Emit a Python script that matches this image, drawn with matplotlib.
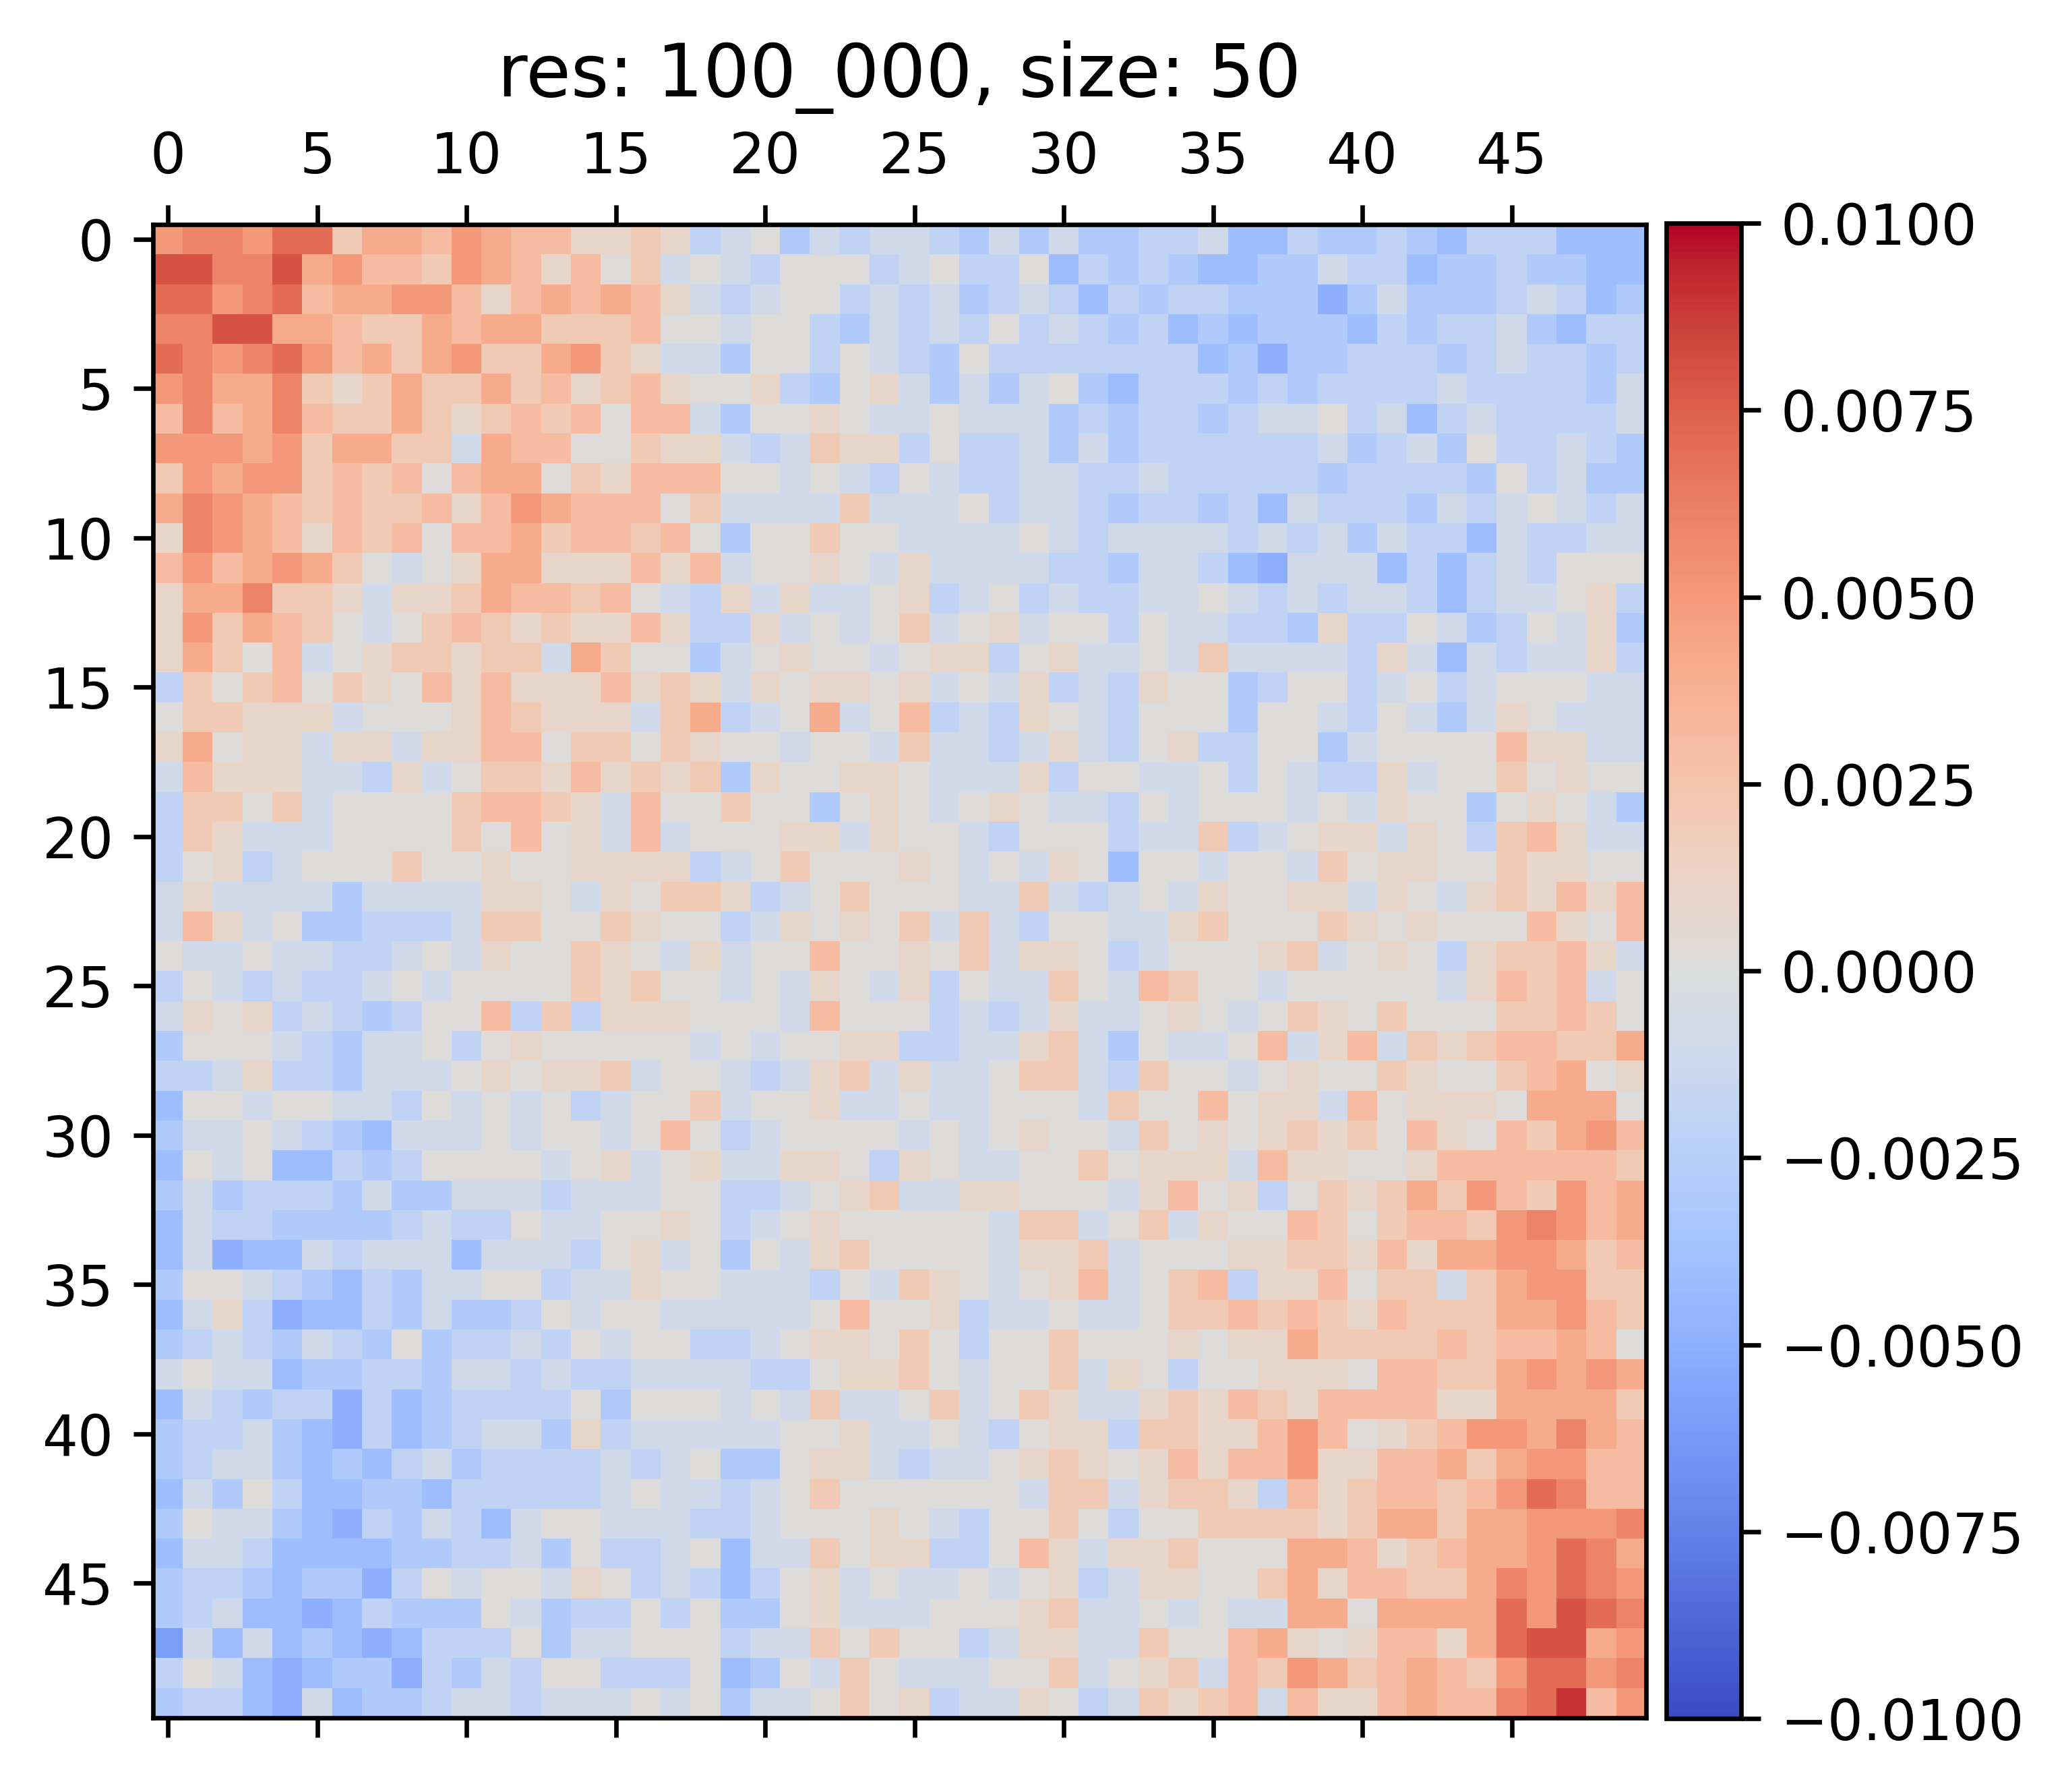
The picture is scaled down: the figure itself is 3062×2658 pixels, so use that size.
import numpy as np
import matplotlib.pyplot as plt

# values, in units of 0.001
unit = 0.001
title = 'res: 100_000, size: 50'
vmin, vmax = -0.01, 0.01
x_ticks = list(range(0, 50, 5))
y_ticks = list(range(0, 50, 5))
cbar_ticks = [-0.01, -0.0075, -0.005, -0.0025, 0.0, 0.0025, 0.005, 0.0075, 0.01]

# columns 0-24
cells_left = [
    [5, 6, 6, 5, 7, 7, 2, 4, 4, 3, 5, 4, 3, 3, 1, 1, 2, 1, -2, -1, 0, -3, -1, -2, -1],
    [8, 8, 6, 6, 8, 4, 5, 3, 3, 2, 5, 4, 3, 1, 3, 0, 2, -1, 0, -1, -2, 0, 0, 0, -2],
    [7, 7, 5, 6, 7, 3, 4, 4, 5, 5, 3, 1, 3, 4, 3, 4, 3, 1, -1, -2, -1, 0, 0, -2, -1],
    [6, 6, 8, 8, 4, 4, 3, 2, 2, 4, 3, 4, 4, 2, 2, 2, 3, 0, 0, -1, 0, 0, -2, -3, -1],
    [7, 6, 5, 6, 7, 5, 3, 4, 2, 4, 5, 2, 2, 4, 5, 2, 1, -1, -1, -3, 0, 0, -2, 0, -1],
    [5, 6, 4, 4, 6, 2, 1, 2, 4, 2, 2, 4, 2, 3, 1, 2, 3, 1, 0, 0, 1, -2, -3, 0, 1],
    [3, 6, 3, 4, 6, 3, 2, 2, 4, 2, 1, 2, 3, 2, 3, 0, 3, 3, -1, -3, 0, 0, 1, 0, -1],
    [5, 5, 5, 4, 5, 2, 4, 4, 2, 2, -1, 4, 3, 3, 0, 0, 2, 1, 1, -1, -2, -1, 2, 1, 1],
    [2, 5, 4, 5, 5, 2, 3, 2, 3, 0, 3, 4, 4, 0, 2, 1, 3, 3, 3, 0, 0, -1, 0, -1, -2],
    [4, 6, 5, 4, 3, 2, 3, 2, 2, 3, 1, 3, 5, 4, 3, 3, 3, 0, 2, -1, -1, -1, -1, 2, -1],
    [1, 6, 5, 4, 3, 1, 3, 2, 3, 0, 3, 3, 4, 2, 3, 3, 2, 3, 0, -3, 0, 0, 2, 0, 0],
    [3, 5, 3, 4, 5, 4, 2, 0, -1, 0, 1, 4, 4, 1, 1, 1, 3, 1, 3, -1, 0, 0, 1, 0, -1],
    [1, 4, 4, 6, 2, 2, 1, -1, 1, 1, 2, 4, 3, 3, 2, 3, 0, -1, -2, 1, -1, 1, -1, -1, 0],
    [1, 5, 2, 4, 3, 2, 0, -1, 0, 2, 3, 2, 1, 2, 1, 1, 3, 1, -2, -2, 1, -1, 0, -1, 0],
    [1, 4, 2, 0, 3, -1, 0, 1, 2, 2, 1, 2, 2, -1, 4, 2, 0, 0, -3, -1, 0, 1, 0, 0, -1],
    [-2, 2, 0, 2, 3, 0, 2, 1, 0, 3, 1, 3, 1, 1, 1, 3, 1, 2, 1, -1, 1, 0, 1, 1, 0],
    [0, 2, 2, 1, 1, 1, -1, 0, 0, 0, 1, 3, 2, 1, 1, 1, -1, 2, 4, -2, -1, 0, 4, -1, 0],
    [1, 4, 0, 1, 1, -1, 1, 1, -1, 1, 1, 3, 3, 0, 2, 2, 0, 2, 1, 0, 0, -1, 0, 0, -1],
    [-1, 3, 1, 1, 1, -1, -1, -2, 1, -1, 0, 2, 2, 1, 3, 1, 2, 1, 2, -3, 1, 0, 0, 1, 1],
    [-2, 2, 2, 0, 2, -1, 0, 0, 0, 0, 2, 3, 3, 2, 1, -1, 3, 0, 0, 2, 0, 0, -3, 0, 1],
    [-2, 2, 1, -1, -1, -1, 0, 0, 0, 0, 2, 0, 3, 0, 1, -1, 3, -1, 0, 0, 0, 1, 1, -1, 1],
    [-2, 0, 1, -2, -1, 0, 0, 0, 2, 0, 0, 1, 0, 0, 1, 1, 1, 1, -2, -1, 0, 2, 0, 0, 0],
    [-1, 1, -1, -1, -1, -1, -3, -1, -1, -1, -1, 1, 1, 0, -1, 1, 0, 2, 2, 1, -2, -1, 0, 2, 0],
    [-1, 3, 1, -1, 0, -3, -3, -2, -2, -2, -1, 2, 2, 0, 0, 2, 1, 0, 0, -2, -1, 1, 0, 1, 0],
    [0, -1, -1, 0, -1, -1, -2, -2, -1, 0, -1, 1, 0, 0, 2, 1, 0, -1, 1, -1, 0, 0, 3, 0, 0],
    [-2, 0, -1, -2, -1, -2, -2, -1, 0, -1, 0, 0, 0, 0, 2, 1, 2, 0, 0, -1, 0, -1, 1, 0, -1],
    [-1, 1, 0, 1, -2, -1, -2, -3, -2, 0, 0, 3, -2, 2, -2, 1, 1, 1, 0, 0, 0, -1, 3, 0, 0],
    [-3, 0, 0, 0, -1, -2, -3, -1, -1, 0, -2, 0, 1, 0, 0, 0, 0, 0, -1, 0, -1, 0, 0, 1, 1],
    [-2, -2, -1, 1, -2, -2, -3, -1, -1, -1, 0, 1, 0, 1, 1, 2, -1, 0, 0, -1, -2, -1, 1, 2, -1],
    [-4, 0, 0, -1, 0, 0, -1, -1, -2, 0, -1, 0, -1, 0, -2, -1, 0, 0, 2, -1, 0, 0, 1, -1, -1],
    [-3, -1, -1, 0, -1, -2, -3, -4, -1, -1, -1, 0, -1, 0, 0, -1, 0, 3, 0, -2, -1, 0, 0, 0, 0],
    [-4, 0, -1, 0, -4, -4, -2, -3, -2, 0, 0, 0, 0, -1, 0, 1, -1, 0, 1, -1, -1, 1, 1, 0, -2],
    [-3, -1, -3, -2, -2, -2, -3, -1, -3, -3, -1, -1, -1, -2, -1, -1, -1, 0, 0, -2, -2, -1, 0, 1, 2],
    [-4, -1, -2, -2, -3, -3, -3, -3, -2, -1, -2, -2, 0, -1, -1, 0, 0, 1, 0, -2, -1, 0, 1, 0, 0],
    [-4, -1, -5, -4, -4, -1, -2, -1, -1, -1, -4, -1, -1, -1, -2, 0, 1, -1, 0, -3, 0, -1, 1, 2, 0],
    [-3, 0, 0, -1, -2, -3, -4, -2, -3, -1, -1, 0, 0, -2, -1, -1, 1, 0, 0, -1, -1, -1, -2, 0, -1],
    [-4, -1, 1, -2, -5, -4, -4, -2, -3, -1, -3, -3, -2, 0, -1, 0, 0, -1, -1, -1, -1, -1, 0, 3, 0],
    [-3, -2, -1, -2, -3, -1, -2, -3, 0, -3, -2, -2, -1, -2, 0, -1, 0, 0, -2, -2, -1, 0, 1, 1, 0],
    [-1, 0, -1, -1, -4, -3, -3, -2, -2, -3, -1, -1, -2, -1, -2, -2, -1, -1, -1, -1, -2, -2, 0, 1, 1],
    [-4, -1, -2, -3, -2, -2, -5, -2, -4, -3, -2, -2, -2, -2, 0, -3, 0, 0, 0, -1, 0, -1, 2, -1, -1],
    [-3, -2, -2, -1, -3, -4, -5, -2, -4, -3, -2, -1, -1, -3, 1, -2, -1, -1, -1, -1, -1, 0, 0, 1, -1],
    [-3, -2, -1, -1, -3, -4, -3, -4, -2, -1, -3, -2, -2, -2, -2, -1, -2, -1, 0, -3, -3, 0, 1, 1, -1],
    [-4, -1, -3, 0, -2, -4, -4, -3, -3, -4, -2, -2, -2, -2, -2, -1, 0, -1, -1, -2, -1, 0, 2, 0, 0],
    [-3, 0, -1, -1, -3, -4, -5, -2, -3, -1, -2, -4, -1, 0, 0, -1, -1, -1, -2, -2, -1, 0, 0, 0, 1],
    [-4, -1, -1, -2, -4, -4, -4, -4, -3, -3, -2, -2, -1, -3, 0, -2, -2, -1, 0, -4, -1, -1, 2, 0, 1],
    [-3, -2, -2, -3, -4, -3, -3, -5, -2, 0, -1, 0, 0, -1, 1, 0, -2, -1, -2, -4, -2, 0, 1, -1, 0],
    [-3, -2, -1, -4, -4, -5, -4, -2, -3, -3, -3, 0, -1, -3, -2, -2, 0, -2, 0, -3, -3, 0, 1, -1, -1],
    [-6, -1, -4, -1, -4, -3, -4, -5, -4, -2, -2, -2, 0, -3, -1, -1, 0, 0, 0, -2, -1, -1, 2, 0, 2],
    [-2, 0, -1, -4, -5, -4, -3, -3, -5, -2, -3, -1, -2, 0, 0, -2, -2, -2, 0, -4, -3, 0, -1, 2, 0],
    [-3, -2, -2, -4, -5, -1, -4, -3, -3, -2, -1, -1, -2, -1, -1, -1, 0, -1, 0, -3, -1, -1, 0, 2, 0],
]

# columns 25-49
cells_right = [
    [-1, -2, -3, -1, -3, -1, -3, -3, -2, -2, -1, -4, -4, -2, -3, -3, -2, -3, -4, -2, -2, -2, -4, -4, -4],
    [-1, 0, -2, -2, 0, -4, -2, -3, -2, -3, -4, -4, -3, -3, -1, -2, -2, -4, -3, -3, -2, -3, -3, -4, -4],
    [-2, -1, -3, -2, -1, -2, -4, -2, -3, -2, -2, -3, -3, -3, -5, -3, -1, -3, -3, -3, -2, -1, -2, -4, -3],
    [-2, -1, -2, 0, -2, -1, -2, -3, -2, -4, -3, -4, -3, -3, -3, -4, -2, -3, -2, -2, -1, -3, -4, -2, -2],
    [-2, -3, 0, -2, -2, -2, -2, -2, -2, -2, -4, -3, -5, -3, -3, -2, -2, -2, -3, -2, -1, -2, -2, -3, -2],
    [-1, -3, -1, -3, -1, 0, -3, -4, -2, -2, -2, -3, -2, -3, -2, -2, -2, -2, -1, -2, -2, -2, -2, -3, -1],
    [-1, 0, -1, -1, -1, -3, -2, -3, -2, -2, -3, -2, -1, -1, 0, -2, -1, -4, -2, -1, -2, -2, -2, -2, -1],
    [-2, 0, -2, -2, -1, -3, -1, -3, -2, -2, -2, -2, -2, -2, -1, -3, -2, -1, -3, 0, -2, -2, -1, -2, -3],
    [0, -1, -2, -2, -1, -1, -2, -2, -1, -2, -2, -2, -2, -2, -3, -2, -2, -2, -2, -3, 0, -2, -1, -3, -3],
    [-1, -1, 0, -2, -1, -1, -2, -3, -2, -2, -3, -2, -4, -1, -2, -2, -2, -3, -1, -2, -1, 0, -1, -2, -1],
    [-1, -1, -1, -1, 0, -1, -2, -1, -1, -1, -1, -2, -1, -2, -1, -3, -1, -2, -2, -4, -1, -2, -2, -1, -1],
    [1, -1, -1, -1, -1, -2, -2, -3, -1, -1, -2, -4, -5, -1, -1, -1, -4, -2, -4, -2, -1, -2, 0, 0, 0],
    [1, -2, -1, 0, -2, -1, -2, -2, -1, -1, 0, -1, -2, -1, -2, -1, -1, -2, -4, -2, -1, -1, 0, 1, -2],
    [2, -1, 0, 1, -1, 0, 0, -2, 0, -1, -1, -2, -2, -3, 1, -2, -2, 0, -1, -3, -2, 0, -1, 1, -3],
    [0, 1, 1, -2, 0, 1, -1, -1, 0, -1, 2, -1, -1, -1, -1, -2, 1, -1, -4, -1, -2, -1, -1, 1, -2],
    [1, -1, 0, -1, 1, -2, -1, -2, 1, 0, 0, -3, -2, 0, 0, -2, -1, 0, -2, -1, 0, 0, 0, -1, -1],
    [3, -2, -1, -2, 1, 0, -1, -2, 0, 0, 0, -3, 0, 0, -1, -2, 0, -1, -3, -1, 1, 0, -1, -1, -1],
    [2, -1, -1, -2, -1, 1, -1, -2, 0, 1, -2, -2, 0, 0, -3, -1, 0, 0, 0, 0, 3, 1, 1, -1, -1],
    [0, -1, -1, -1, 1, -2, 0, 0, -1, -1, 0, -2, 0, -1, -2, -2, 1, -1, 0, 0, 2, 0, 1, 0, 0],
    [0, -1, 0, 1, 0, -1, -1, -2, 0, -1, 0, 0, 0, -1, 0, -1, 1, 0, 0, -3, 0, 1, 0, -1, -3],
    [0, 0, -1, -2, 0, 0, 0, -2, -1, -1, 2, -2, -1, 0, 1, 1, -1, 1, 0, -2, 2, 3, 1, -1, -1],
    [1, 0, -1, 0, -1, 1, 0, -4, 0, 0, -1, 0, 0, -1, 2, 0, 1, 1, 0, 0, 2, 1, 1, 0, 0],
    [0, 0, -1, -1, 2, -1, -2, -1, 0, -1, 1, 0, 0, 1, 1, -1, 1, 0, -1, 1, 2, 1, 3, 1, 3],
    [2, -1, 2, -1, -2, 0, 0, -1, -1, 1, 2, 0, 0, 0, 2, 1, 0, 1, 0, 0, 0, 3, 1, 0, 3],
    [1, 0, 2, -1, 1, 1, 0, -2, -1, 0, 0, 0, 1, 2, -1, 0, 1, 0, -2, 1, 2, 2, 3, 1, -1],
    [1, -2, 0, -1, -1, 2, 0, -1, 3, 2, 0, 0, -1, 0, 0, 0, 0, 0, -1, 1, 3, 2, 3, -1, 0],
    [0, -2, -1, -2, -1, 1, -1, -1, 0, 1, 0, -1, 0, 2, 1, 0, 2, 0, 0, 0, 2, 2, 3, 2, 0],
    [-2, -2, -1, -1, 1, 2, -1, -3, 0, -1, -1, 0, 3, -1, 1, 3, -1, 2, 1, 2, 3, 3, 2, 2, 4],
    [1, -1, -1, 0, 2, 2, -1, -2, 2, 0, 0, -1, 0, 1, 0, 0, 2, 1, 0, 0, 2, 3, 4, 0, 1],
    [0, -1, -1, 0, 0, 0, -1, 2, 0, 0, 3, 0, 1, 1, -1, 3, 0, 1, 1, 1, 0, 4, 4, 4, 0],
    [-1, 0, -1, 0, 1, 0, 0, -1, 2, 0, 1, 0, 1, 2, 1, 2, 0, 3, 1, 0, 3, 2, 4, 5, 3],
    [1, 0, -1, -1, 0, 0, 2, 0, 1, 1, 1, -1, 3, 1, 1, 0, 0, 1, 3, 3, 3, 3, 3, 3, 2],
    [-1, -1, 1, 1, 0, 0, 0, -1, 1, 3, 0, 1, -2, 0, 2, 1, 2, 4, 2, 5, 3, 2, 5, 3, 4],
    [0, 0, 0, -1, 2, 2, -1, 0, 2, -1, 1, 0, 0, 3, 2, 0, 2, 3, 3, 2, 5, 6, 5, 3, 4],
    [0, 0, 0, -1, 1, 1, 2, -1, 0, 0, 0, 1, 1, 2, 2, 1, 3, 1, 4, 4, 5, 5, 4, 2, 3],
    [2, 1, 0, -1, 0, 1, 3, -1, 0, 2, 3, -2, 1, 1, 3, 0, 2, 2, -1, 2, 4, 5, 5, 2, 2],
    [0, 1, -2, -1, -1, 0, -1, -1, 0, 2, 2, 3, 2, 3, 2, 1, 3, 2, 2, 2, 4, 4, 5, 3, 2],
    [2, 0, -2, 0, 0, 2, 0, 0, 0, 1, 0, 1, 1, 4, 2, 2, 2, 2, 3, 2, 3, 3, 4, 3, 0],
    [2, 0, -1, 0, 0, 2, -1, 1, 0, -2, 0, 0, 1, 1, 1, 0, 3, 3, 2, 2, 4, 5, 4, 5, 4],
    [0, 2, -1, 0, 2, 1, -1, -1, 1, 2, 1, 3, 2, 1, 3, 3, 3, 3, 1, 1, 4, 4, 4, 4, 2],
    [-1, 0, -1, -2, 0, 1, 1, -2, 2, 2, 1, 1, 3, 5, 3, 0, 1, 2, 3, 5, 5, 4, 6, 4, 3],
    [-2, -1, -1, 0, 1, 2, 1, 0, 1, 3, 1, 3, 3, 5, 1, 1, 3, 3, 4, 2, 4, 5, 5, 3, 3],
    [0, 0, 0, 0, -1, 2, 2, -1, 1, 2, 2, 1, -2, 3, 1, 2, 3, 3, 2, 3, 5, 7, 6, 3, 3],
    [0, -1, -2, 0, 0, 2, 0, -2, 0, 0, 2, 2, 2, 2, 1, 2, 4, 4, 2, 4, 4, 5, 5, 5, 6],
    [1, -2, -2, 0, 3, 1, -1, 1, 1, 2, 0, 0, 0, 4, 4, 3, 1, 2, 3, 4, 4, 5, 7, 6, 4],
    [-1, -1, 0, -1, 0, 1, -2, -1, 1, 1, 0, 0, 2, 4, 1, 3, 3, 2, 2, 4, 6, 5, 7, 6, 5],
    [-1, 0, 0, 0, 1, 2, -1, -1, 0, -1, 0, -1, -1, 4, 4, 0, 4, 4, 4, 4, 7, 5, 8, 7, 6],
    [0, 0, -2, -1, 1, 1, -1, -1, 2, 0, 0, 3, 4, 1, 0, 1, 3, 3, 1, 4, 7, 8, 8, 4, 5],
    [-1, -1, -1, 0, 0, 2, -1, 0, 1, 2, -1, 3, 2, 5, 4, 2, 3, 4, 3, 2, 5, 7, 7, 5, 6],
    [1, -2, -1, -1, 1, 0, -2, -1, 2, 1, 2, 3, -1, 3, 1, 1, 3, 4, 3, 3, 6, 7, 9, 3, 5],
]

grid = np.hstack([np.array(cells_left), np.array(cells_right)]) * unit

W, H = 3062, 2658
fig = plt.figure(figsize=(W / 600, H / 600), dpi=600)
ax = fig.add_axes([227 / W, 1 - 2549 / H, 2215 / W, 2218 / H])
im = ax.matshow(grid, cmap='coolwarm', vmin=vmin, vmax=vmax)
ax.set_xticks(x_ticks)
ax.set_yticks(y_ticks)
ax.tick_params(labelsize=10)
ax.set_title(title, fontsize=13)

cax = fig.add_axes([2472 / W, 1 - 2549 / H, 111 / W, 2218 / H])
cb = fig.colorbar(im, cax=cax, ticks=cbar_ticks)
cb.ax.tick_params(labelsize=10)

fig.savefig('out.png', dpi=600)
